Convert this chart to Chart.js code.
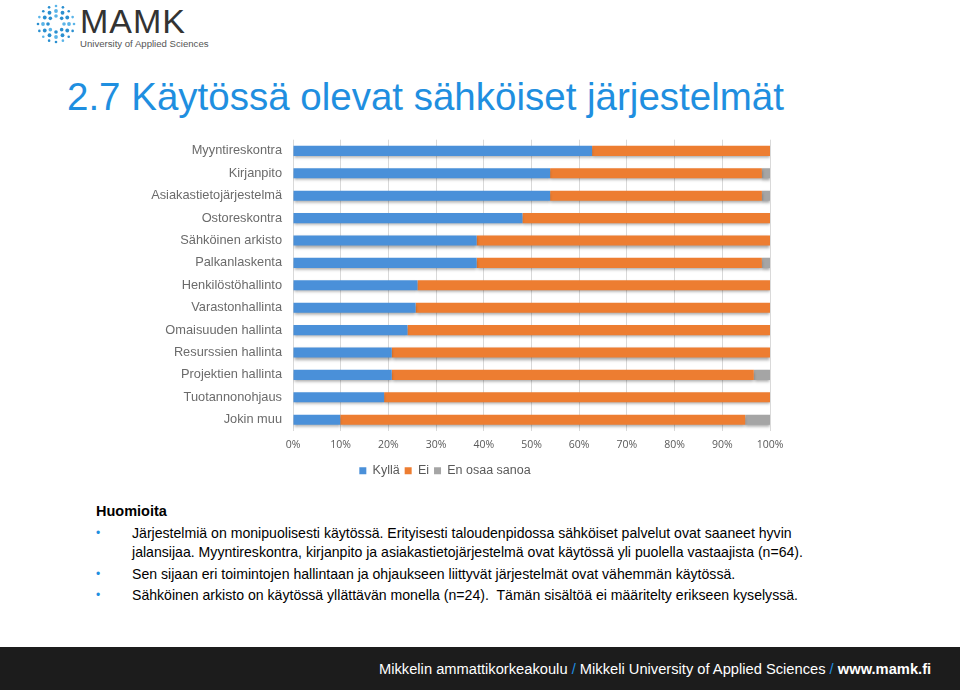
<!DOCTYPE html>
<html><head><meta charset="utf-8">
<script src="https://cdn.jsdelivr.net/npm/chart.js@4"></script>
<style>
body{margin:0;width:960px;height:690px;position:relative;background:#fff;font-family:"Liberation Sans",Arial,sans-serif;overflow:hidden}
#title{position:absolute;left:67px;top:75px;font-size:38.5px;color:#1f8fe0;white-space:nowrap}
#wrap{position:absolute;left:120px;top:129px;width:680px;height:358px}
#notes{position:absolute;left:96px;top:502px;font-size:14.1px;color:#000;line-height:19.5px;white-space:nowrap}
#notes b{font-size:14.5px}
#notes .li{position:relative;padding-left:36px;margin-top:2px}
#notes .li:before{content:"•";position:absolute;left:0;color:#1f8fe0;font-size:12px}
#foot{position:absolute;left:0;top:647px;width:960px;height:43px;background:#1c1c1c}
#foot span{position:absolute;left:379px;top:14px;color:#fff;font-size:14.7px;white-space:nowrap}
#foot i{color:#1f8fe0;font-style:normal}
#logo{position:absolute;left:36px;top:4px}
#mamk{position:absolute;left:80px;top:2px;font-size:34px;color:#333;letter-spacing:1px}
#uni{position:absolute;left:80px;top:38px;font-size:9.6px;color:#555}
</style></head><body>
<svg id="logo" width="40" height="40" viewBox="0 0 40 40"></svg>
<div id="mamk">MAMK</div>
<div id="uni">University of Applied Sciences</div>
<div id="title">2.7 Käytössä olevat sähköiset järjestelmät</div>
<div id="wrap"><canvas id="c"></canvas></div>
<div id="notes">
<b>Huomioita</b>
<div class="li">Järjestelmiä on monipuolisesti käytössä. Erityisesti taloudenpidossa sähköiset palvelut ovat saaneet hyvin<br>jalansijaa. Myyntireskontra, kirjanpito ja asiakastietojärjestelmä ovat käytössä yli puolella vastaajista (n=64).</div>
<div class="li">Sen sijaan eri toimintojen hallintaan ja ohjaukseen liittyvät järjestelmät ovat vähemmän käytössä.</div>
<div class="li">Sähköinen arkisto on käytössä yllättävän monella (n=24).&nbsp; Tämän sisältöä ei määritelty erikseen kyselyssä.</div>
</div>
<div id="foot"><span>Mikkelin ammattikorkeakoulu <i>/</i> Mikkeli University of Applied Sciences <i>/</i> <b>www.mamk.fi</b></span></div>
<script>
// logo dots
const svg = document.getElementById('logo');
for (let r of [8, 13, 18]) {
  const n = r === 8 ? 8 : r === 13 ? 12 : 16;
  for (let i = 0; i < n; i++) {
    const a = i / n * Math.PI * 2;
    const c = document.createElementNS('http://www.w3.org/2000/svg', 'circle');
    c.setAttribute('cx', 20 + r * Math.cos(a)); c.setAttribute('cy', 20 + r * Math.sin(a));
    c.setAttribute('r', r === 8 ? 1.8 : r === 13 ? 1.9 : 1.3);
    c.setAttribute('fill', i % 3 ? '#2a8fd0' : '#5ab4e8');
    svg.appendChild(c);
  }
}

const categories = ['Myyntireskontra','Kirjanpito','Asiakastietojärjestelmä','Ostoreskontra','Sähköinen arkisto','Palkanlaskenta','Henkilöstöhallinto','Varastonhallinta','Omaisuuden hallinta','Resurssien hallinta','Projektien hallinta','Tuotannonohjaus','Jokin muu'];
const kylla = [62.7, 53.9, 53.9, 48.1, 38.5, 38.5, 26.1, 25.7, 24.0, 20.7, 20.7, 19.1, 9.9];
const ei = [37.3, 44.4, 44.4, 51.9, 61.5, 59.8, 73.9, 74.3, 76.0, 79.3, 75.9, 80.9, 84.9];
const eos = [0, 1.7, 1.7, 0, 0, 1.7, 0, 0, 0, 0, 3.4, 0, 5.2];

const shadow = {
  id: 'shadow',
  beforeDatasetsDraw(ch) { ch.ctx.save(); ch.ctx.shadowColor = 'rgba(0,0,0,0.35)'; ch.ctx.shadowOffsetY = 2; ch.ctx.shadowBlur = 3; },
  afterDatasetsDraw(ch) { ch.ctx.restore(); }
};

new Chart(document.getElementById('c'), {
  type: 'bar',
  data: { labels: categories, datasets: [
    { label: 'Kyllä', data: kylla, backgroundColor: '#4a90d9' },
    { label: 'Ei', data: ei, backgroundColor: '#ed7d31' },
    { label: 'En osaa sanoa', data: eos, backgroundColor: '#a5a5a5' }
  ]},
  options: {
    indexAxis: 'y', responsive: true, maintainAspectRatio: false, animation: false,
    datasets: { bar: { categoryPercentage: 1, barPercentage: 0.45 } },
    layout: { padding: { right: 30 } },
    scales: {
      x: { stacked: true, min: 0, max: 100, ticks: { stepSize: 10, padding: 8, callback: v => v + '%', color: '#595959', font: { family: 'Open Sans', size: 10.5 } },
           grid: { color: '#d9d9d9', drawTicks: false }, border: { display: false } },
      y: { stacked: true, afterFit: s => { s.width = 173; },
           ticks: { color: '#6b6b6b', font: { family: 'Liberation Sans', size: 12.8 }, padding: 3 },
           grid: { display: false }, border: { display: false } }
    },
    plugins: {
      legend: { position: 'bottom', labels: { boxWidth: 7, boxHeight: 7, color: '#595959', font: { family: 'Liberation Sans', size: 12.5 }, padding: 5 } },
      tooltip: { enabled: false }
    }
  },
  plugins: [shadow]
});
</script>
</body></html>
